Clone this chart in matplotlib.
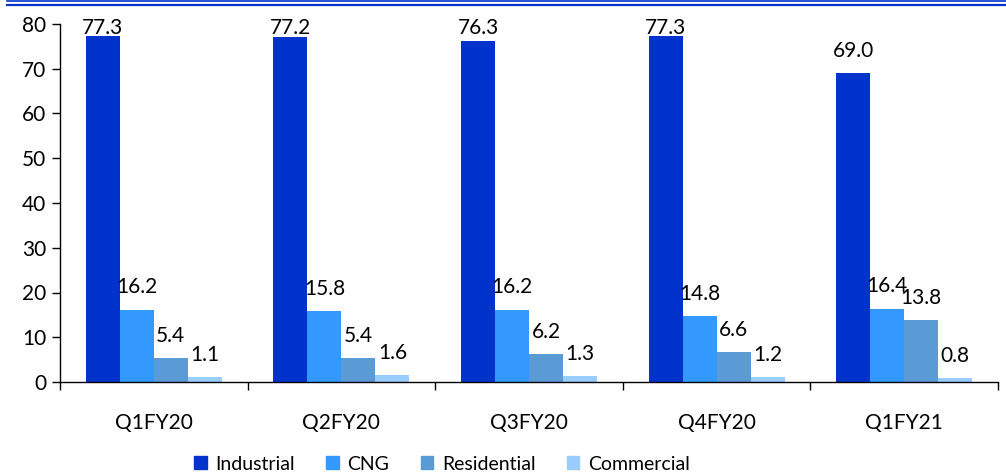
import matplotlib
matplotlib.use("Agg")
import matplotlib.pyplot as plt
import numpy as np
from matplotlib.lines import Line2D

categories = ["Q1FY20", "Q2FY20", "Q3FY20", "Q4FY20", "Q1FY21"]
series_names = ["Industrial", "CNG", "Residential", "Commercial"]
industrial = [77.3, 77.2, 76.3, 77.3, 69.0]
cng = [16.2, 15.8, 16.2, 14.8, 16.4]
residential = [5.4, 5.4, 6.2, 6.6, 13.8]
commercial = [1.1, 1.6, 1.3, 1.2, 0.8]
colors = ["#0033CC", "#3399FF", "#5B9BD5", "#99CCFF"]
yticks = [0, 10, 20, 30, 40, 50, 60, 70, 80]

plt.rcParams['font.family'] = ['Lato', 'DejaVu Sans']

W, H = 1006, 476
fig = plt.figure(figsize=(W / 100, H / 100), dpi=100)
ax = fig.add_axes([60 / W, 1 - 382 / H, (998 - 60) / W, (382 - 24) / H])

data = [industrial, cng, residential, commercial]
x = np.arange(len(categories))
bw = 0.181
for i, (vals, c, name) in enumerate(zip(data, colors, series_names)):
    pos = x + (i - 1.5) * bw
    ax.bar(pos, vals, width=bw, color=c, label=name, edgecolor='none', zorder=2)
    for p, v in zip(pos, vals):
        ly = min(v + 3.6, 77.8)
        ax.text(p, ly, f"{v:.1f}", ha='center', va='baseline', fontsize=15, color='black', zorder=3)

ax.set_xlim(-0.5, len(categories) - 0.5)
ax.set_ylim(0, 80)
ax.set_yticks(yticks)
ax.set_yticklabels([str(t) for t in yticks], fontsize=15)
ax.set_xticks(x)
ax.set_xticklabels(categories, fontsize=15)
ax.set_xticks(np.arange(len(categories) + 1) - 0.5, minor=True)
ax.tick_params(axis='x', which='major', length=0, pad=22)
ax.tick_params(axis='x', which='minor', length=6, width=1, direction='out')
ax.tick_params(axis='y', length=6, width=1, direction='out', pad=4)
for s in ['top', 'right']:
    ax.spines[s].set_visible(False)
for s in ['left', 'bottom']:
    ax.spines[s].set_linewidth(1)
    ax.spines[s].set_color('black')

handles = [plt.Rectangle((0, 0), 1, 1, color=c) for c in colors]
fig.legend(handles, series_names, loc='center', bbox_to_anchor=(442 / W, 1 - 464 / H),
           ncol=4, frameon=False, fontsize=14, handlelength=0.65, handleheight=0.65,
           handletextpad=0.45, columnspacing=1.6, borderpad=0)

fig.add_artist(Line2D([7 / W, 1], [1 - 1 / H, 1 - 1 / H], color='#0033CC', lw=1.2, transform=fig.transFigure))
fig.add_artist(Line2D([7 / W, 1], [1 - 4.5 / H, 1 - 4.5 / H], color='#0033CC', lw=1.6, transform=fig.transFigure))

fig.savefig("out.png", dpi=100)
